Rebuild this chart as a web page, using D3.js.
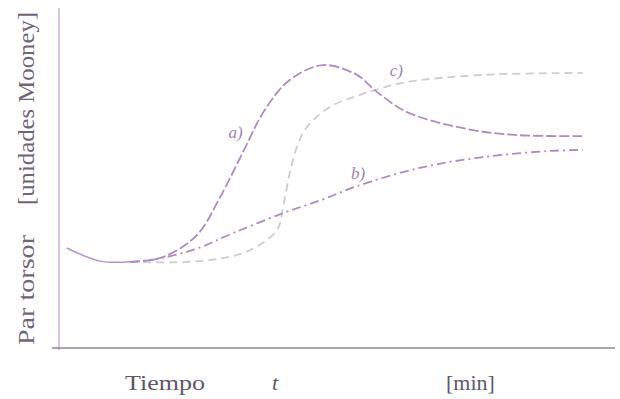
<!DOCTYPE html>
<html>
<head>
<meta charset="utf-8">
<script src="https://cdn.jsdelivr.net/npm/d3@7"></script>
<style>
  body { margin: 0; background: #fff; }
  svg { display: block; }
</style>
</head>
<body>
<div id="chart"></div>
<script>
// curve values: [tiempo, par torsor] in arbitrary units 0..100
const commonStart = [[1.4, 29.6], [7.4, 25.7], [12.8, 25.5]];
const curveA = [[12.8, 25.5], [18.7, 26.9], [24.8, 33.4], [29.0, 44.7], [33.1, 58.0], [37.0, 70.4],
  [41.5, 79.3], [47.5, 83.7], [53.6, 80.8], [56.8, 76.3], [62.6, 69.8],
  [73.4, 64.8], [82.4, 63.0], [94.2, 62.7]];
const curveB = [[12.8, 25.5], [16.4, 26.0], [24.1, 29.0], [31.3, 34.0], [40.3, 39.9], [47.5, 44.0],
  [53.6, 47.9], [64.9, 53.3], [76.3, 56.5], [88.3, 58.3], [94.2, 58.6]];
const curveC = [[12.8, 25.5], [22.3, 25.4], [29.5, 26.6], [34.4, 29.0], [39.2, 34.9], [40.3, 41.7],
  [41.5, 51.8], [42.8, 59.5], [44.6, 65.4], [48.7, 71.3], [54.1, 74.9], [56.8, 76.3],
  [62.6, 78.7], [76.3, 80.8], [94.2, 81.4]];
const curveLabels = [{ name: "a)", t: 30.5, v: 62 }, { name: "b)", t: 52.5, v: 50 }, { name: "c)", t: 59.5, v: 80.5 }];

const width = 620, height = 399;
const x = d3.scaleLinear().domain([0, 100]).range([59, 615]);
const y = d3.scaleLinear().domain([0, 100]).range([348, 10]);

const svg = d3.select("#chart").append("svg")
  .attr("width", width).attr("height", height);

// axes (plain lines, no ticks)
svg.append("line").attr("x1", x(0)).attr("x2", x(0)).attr("y1", 8).attr("y2", 350)
  .attr("stroke", "#cdb0cf").attr("stroke-width", 1.5);
svg.append("line").attr("x1", 52).attr("x2", 615).attr("y1", y(0)).attr("y2", y(0))
  .attr("stroke", "#8c84a0").attr("stroke-width", 1.5);

const line = d3.line().x(d => x(d[0])).y(d => y(d[1])).curve(d3.curveCatmullRom.alpha(0.5));

svg.append("path").datum(curveC).attr("d", line).attr("fill", "none")
  .attr("stroke", "#cfcbd6").attr("stroke-width", 1.8).attr("stroke-dasharray", "8,5");
svg.append("path").datum(curveB).attr("d", line).attr("fill", "none")
  .attr("stroke", "#ad8cc4").attr("stroke-width", 1.8).attr("stroke-dasharray", "9,4,2,4");
svg.append("path").datum(curveA).attr("d", line).attr("fill", "none")
  .attr("stroke", "#ad8cc4").attr("stroke-width", 1.8).attr("stroke-dasharray", "10,3");
svg.append("path").datum(commonStart).attr("d", line).attr("fill", "none")
  .attr("stroke", "#b493c8").attr("stroke-width", 1.5);

// curve labels
svg.selectAll(".clab").data(curveLabels).enter().append("text")
  .attr("x", d => x(d.t)).attr("y", d => y(d.v))
  .attr("font-family", "Liberation Serif").attr("font-style", "italic")
  .attr("font-size", 17).attr("fill", "#9c84b4")
  .text(d => d.name);

// y axis title
const yt = svg.append("text").attr("font-family", "Liberation Serif").attr("font-size", 23)
  .attr("fill", "#6e6676").attr("transform", "translate(34,0) rotate(-90)");
yt.append("tspan").attr("x", -345).attr("y", 0).attr("textLength", 110)
  .attr("lengthAdjust", "spacingAndGlyphs").text("Par torsor");
yt.append("tspan").attr("x", -205).attr("y", 0).attr("textLength", 193)
  .attr("lengthAdjust", "spacingAndGlyphs").text("[unidades Mooney]");

// x axis title
const xt = svg.append("g").attr("font-family", "Liberation Serif").attr("font-size", 22).attr("fill", "#5e5868");
xt.append("text").attr("x", 125).attr("y", 390).attr("textLength", 80)
  .attr("lengthAdjust", "spacingAndGlyphs").text("Tiempo");
xt.append("text").attr("x", 272).attr("y", 390).attr("font-style", "italic").text("t");
xt.append("text").attr("x", 446).attr("y", 390).text("[min]");
</script>
</body>
</html>
